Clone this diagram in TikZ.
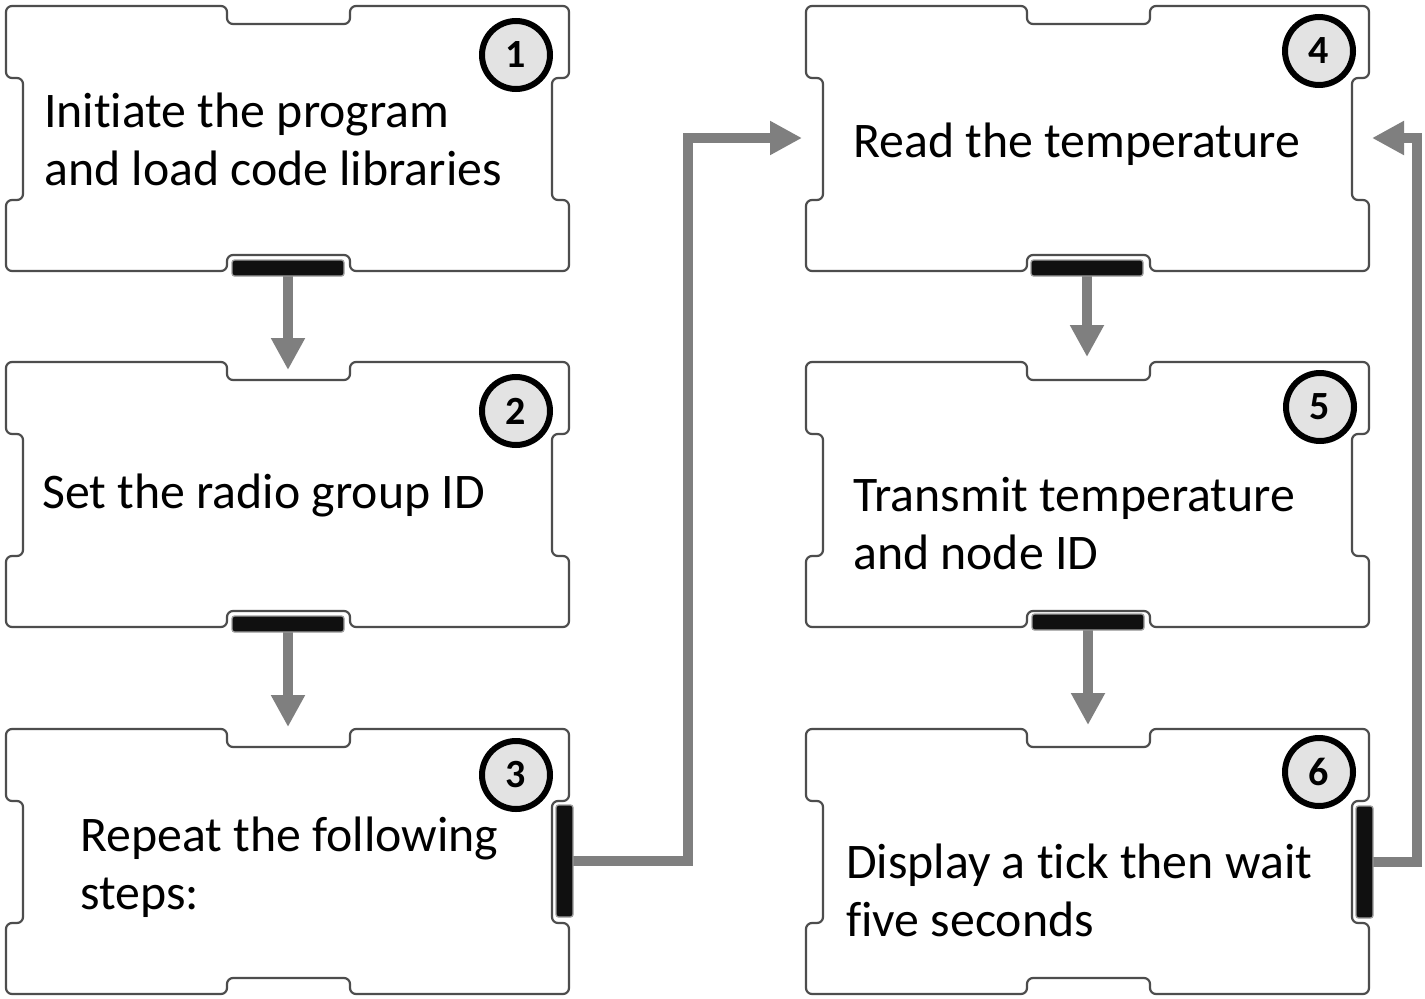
\documentclass[tikz,border=0pt]{standalone}
\usepackage{fontspec}
\setmainfont[Ligatures={NoCommon,NoContextual}]{Carlito}
\usetikzlibrary{arrows.meta}
\definecolor{boxline}{HTML}{4D4D4D}
\definecolor{conngray}{HTML}{7F7F7F}
\definecolor{numfill}{HTML}{E3E3E3}
\definecolor{barblack}{HTML}{101010}
\tikzset{
  puzzle/.style={draw=boxline, line width=2.2, fill=white, rounded corners=6},
  hbar/.style={rectangle, rounded corners=2.5, fill=barblack, draw=gray!75, line width=1.3,
    minimum width=112, minimum height=16, inner sep=0},
  vbar/.style={rectangle, rounded corners=2.5, fill=barblack, draw=gray!75, line width=1.3,
    minimum width=17, minimum height=112, inner sep=0},
  conn/.style={draw=conngray, line width=10, -{Triangle[length=32pt,width=32pt]}},
  numcirc/.style={circle, draw=black, line width=6, fill=numfill, minimum size=68, inner sep=0,
    font=\fontsize{40}{40}\selectfont\bfseries},
  txt/.style={anchor=base west, inner sep=0, font=\fontsize{49.8}{58}\selectfont},
}
\newcommand\pbox[1]{%
  \begin{scope}[shift={(#1)}]
    \draw[puzzle] (100,0) -- (221,0) -- (221,18) -- (344,18) -- (344,0) -- (563,0)
      -- (563,72) -- (546,72) -- (546,194) -- (563,194) -- (563,265)
      -- (344,265) -- (344,249) -- (221,249) -- (221,265) -- (0,265)
      -- (0,194) -- (17,194) -- (17,72) -- (0,72) -- (0,0) -- cycle;
  \end{scope}}
\newcommand\lines[1]{\begin{tabular}[t]{@{}l@{}}#1\end{tabular}}
\begin{document}
\begin{tikzpicture}[x=1pt,y=-1pt]
  \fill[white] (0,0) rectangle (1425,999);
  \useasboundingbox (0,0) rectangle (1425,999);

  % boxes
  \pbox{6,6}
  \pbox{6,362}
  \pbox{6,729}
  \pbox{806,6}
  \pbox{806,362}
  \pbox{806,729}

  % arrow targets
  \coordinate (in2) at (288,370);
  \coordinate (in3) at (288,727);
  \coordinate (in5) at (1087,357);
  \coordinate (in6) at (1088,725);
  \coordinate (in4) at (802,138);
  \coordinate (in4r) at (1372,138);
  \coordinate (turnL) at (688,138);
  \coordinate (turnR) at (1417,138);

  % bar positions (connector ports)
  \path
    (288,268) coordinate (pb1)
    (288,624) coordinate (pb2)
    (1087,268) coordinate (pb4)
    (1088,622) coordinate (pb5)
    (564.5,861) coordinate (pb3)
    (1364.5,862) coordinate (pb6);

  % connectors
  \draw[conn] (pb1) -- (in2);
  \draw[conn] (pb2) -- (in3);
  \draw[conn] (pb4) -- (in5);
  \draw[conn] (pb5) -- (in6);
  \draw[conn] (pb3) -| (turnL) -- (in4);
  \draw[conn] (pb6) -| (turnR) -- (in4r);

  \node[hbar] (bar1) at (pb1) {};
  \node[hbar] (bar2) at (pb2) {};
  \node[hbar] (bar4) at (pb4) {};
  \node[hbar] (bar5) at (pb5) {};
  \node[vbar] (bar3) at (pb3) {};
  \node[vbar] (bar6) at (pb6) {};

  % numbers
  \node[numcirc] (n1) at (516,55) {1};
  \node[numcirc] (n2) at (516,411) {2};
  \node[numcirc] (n3) at (516,775) {3};
  \node[numcirc] (n4) at (1319,51) {4};
  \node[numcirc] (n5) at (1320,407) {5};
  \node[numcirc] (n6) at (1319,772) {6};

  % texts
  \node[txt] (t1) at (44,127) {\lines{Initiate the program\\and load code libraries}};
  \node[txt] (t2) at (42,508) {\lines{Set the radio group ID}};
  \node[txt] (t3) at (80,851) {\lines{Repeat the following\\steps:}};
  \node[txt] (t4) at (853,157) {\lines{Read the temperature}};
  \node[txt] (t5) at (853,511) {\lines{Transmit temperature\\and node ID}};
  \node[txt] (t6) at (846,878) {\lines{Display a tick then wait\\five seconds}};
\end{tikzpicture}
\end{document}
